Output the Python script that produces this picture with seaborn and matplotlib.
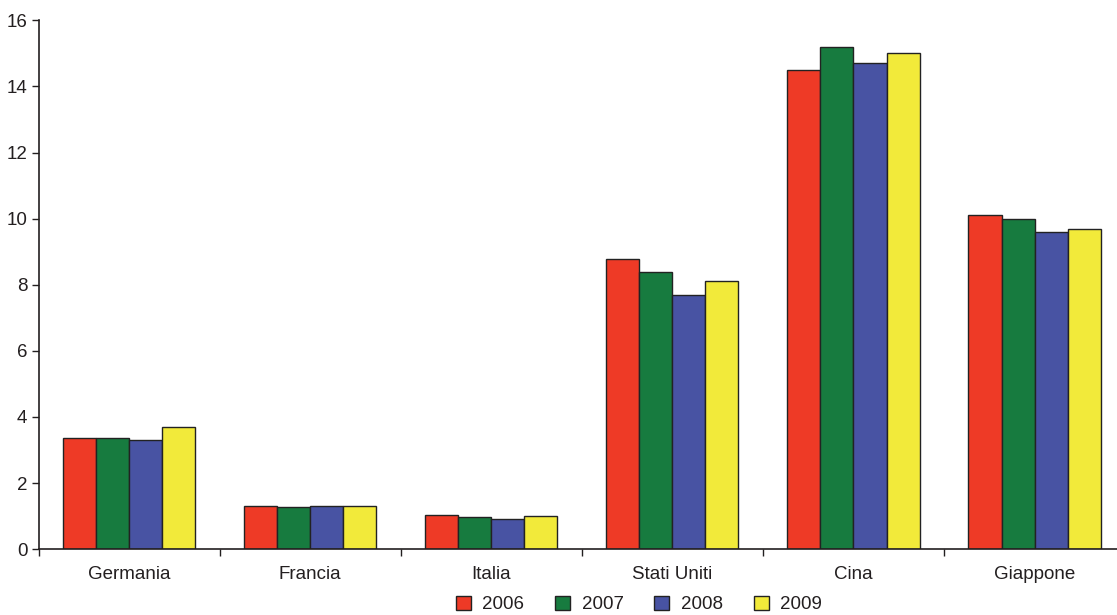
import matplotlib
matplotlib.use("Agg")
import matplotlib.pyplot as plt
import seaborn as sns
import pandas as pd

countries = ["Germania", "Francia", "Italia", "Stati Uniti", "Cina", "Giappone"]
years = ["2006", "2007", "2008", "2009"]
v2006 = [3.36, 1.30, 1.03, 8.78, 14.5, 10.1]
v2007 = [3.35, 1.28, 0.98, 8.40, 15.2, 10.0]
v2008 = [3.30, 1.32, 0.90, 7.70, 14.7, 9.6]
v2009 = [3.69, 1.30, 0.99, 8.10, 15.0, 9.7]
colors = ["#EE3A26", "#177B3F", "#4853A3", "#F2EA3A"]

rows = []
for y, vals in zip(years, [v2006, v2007, v2008, v2009]):
    for c, v in zip(countries, vals):
        rows.append({"Paese": c, "Anno": y, "Valore": v})
df = pd.DataFrame(rows)

sns.set_theme(style="white")
plt.rcParams["font.family"] = ["Liberation Sans", "DejaVu Sans"]
txt = "#231F20"

fig = plt.figure(figsize=(11.17, 6.15), dpi=100)
ax = fig.add_axes([0.0345, 0.107, 0.9655, 0.86])
sns.barplot(data=df, x="Paese", y="Valore", hue="Anno", order=countries,
            hue_order=years, palette=colors, width=0.73, ax=ax,
            edgecolor="#222222", linewidth=1.0, saturation=1, errorbar=None)

ax.set_yticks(range(0, 17, 2))
ax.set_xticks([i + 0.5 for i in range(-1, 5)], minor=True)
ax.set_ylim(0, 16)
ax.set_xlim(-0.5, 5.455)
ax.tick_params(axis="x", which="major", length=0, labelsize=13.5, labelcolor=txt, pad=12)
ax.tick_params(axis="x", which="minor", length=5, width=1, color=txt, direction="out", bottom=True)
ax.tick_params(axis="y", length=5, width=1, color=txt, direction="out", left=True,
               labelsize=13.5, labelcolor=txt, pad=3)
ax.set_xlabel("")
ax.set_ylabel("")
for s in ["top", "right"]:
    ax.spines[s].set_visible(False)
for s in ["left", "bottom"]:
    ax.spines[s].set_color(txt)
    ax.spines[s].set_linewidth(1.2)

handles, labels = ax.get_legend_handles_labels()
ax.get_legend().remove()
fig.legend(handles, labels, loc="center", bbox_to_anchor=(0.572, 0.017), ncol=4,
           frameon=False, fontsize=13.5, handlelength=0.8, handleheight=0.8,
           columnspacing=1.65, handletextpad=0.6, labelcolor=txt)

fig.savefig("out.png", dpi=100)
